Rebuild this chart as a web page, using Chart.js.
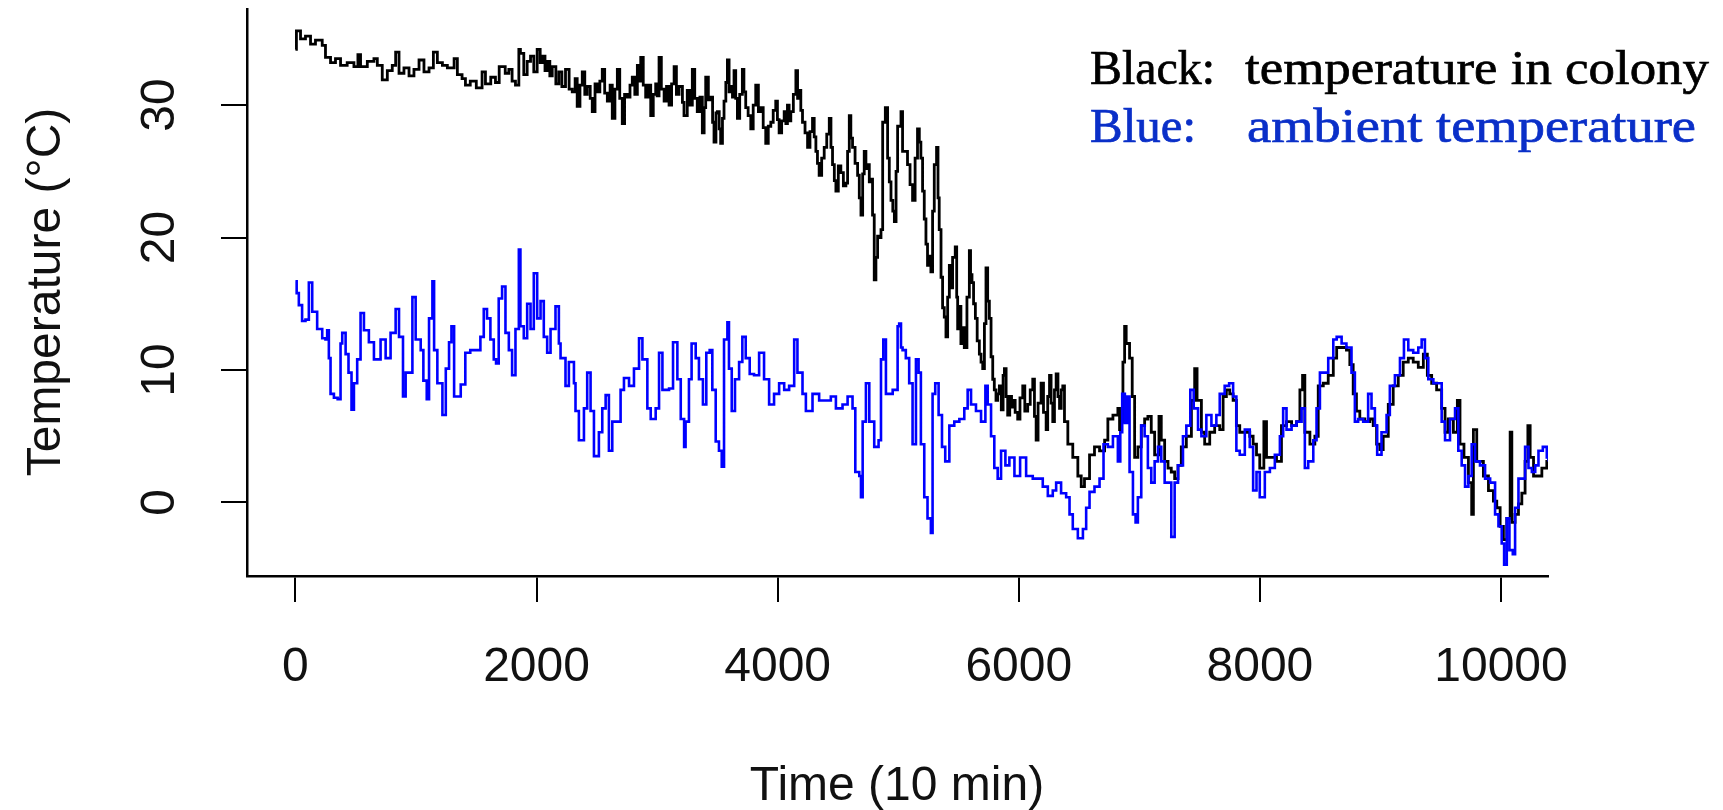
<!DOCTYPE html>
<html>
<head>
<meta charset="utf-8">
<script src="https://cdn.jsdelivr.net/npm/chart.js@4"></script>
<style>
  html, body { margin: 0; padding: 0; background: #fff; }
  canvas { display: block; }
</style>
</head>
<body>
<canvas id="grafico" width="1723" height="810"></canvas>
<script>
// temperature inside the colony (black line)
const colonyTime = [
    0, 8, 42, 83, 125, 166, 222, 249, 291, 332,
    374, 429, 485, 518, 540, 596, 651, 679, 720, 762,
    803, 831, 859, 900, 942, 983, 1025, 1066, 1108, 1144,
    1177, 1219, 1260, 1316, 1343, 1382, 1410, 1450, 1500, 1548,
    1576, 1620, 1659, 1690, 1740, 1770, 1797, 1825, 1853, 1866,
    1894, 1922, 1950, 1977, 2005, 2030, 2047, 2070, 2088, 2110,
    2130, 2160, 2185, 2210, 2240, 2270, 2296, 2320, 2337, 2360,
    2379, 2400, 2420, 2445, 2462, 2485, 2504, 2525, 2545, 2565,
    2587, 2610, 2628, 2650, 2670, 2690, 2711, 2730, 2753, 2775,
    2794, 2815, 2836, 2850, 2864, 2885, 2905, 2925, 2947, 2968,
    2988, 3000, 3016, 3035, 3058, 3078, 3099, 3120, 3141, 3160,
    3182, 3210, 3223, 3250, 3270, 3292, 3312, 3333, 3355, 3375,
    3390, 3403, 3425, 3444, 3460, 3472, 3488, 3500, 3515, 3527,
    3542, 3555, 3570, 3583, 3597, 3610, 3625, 3638, 3652, 3666,
    3685, 3707, 3720, 3735, 3755, 3777, 3797, 3818, 3840, 3860,
    3880, 3901, 3922, 3943, 3963, 3984, 3998, 4012, 4033, 4054,
    4068, 4081, 4095, 4109, 4130, 4151, 4165, 4178, 4192, 4206,
    4227, 4248, 4268, 4289, 4303, 4317, 4330, 4344, 4365, 4386,
    4407, 4428, 4442, 4455, 4470, 4483, 4503, 4524, 4545, 4566,
    4580, 4594, 4607, 4621, 4642, 4663, 4677, 4691, 4705, 4718,
    4732, 4746, 4760, 4774, 4787, 4801, 4815, 4829, 4843, 4857,
    4871, 4893, 4912, 4926, 4940, 4955, 4968, 4982, 4995, 5023,
    5036, 5051, 5077, 5098, 5119, 5140, 5160, 5175, 5188, 5202,
    5216, 5230, 5243, 5257, 5271, 5285, 5299, 5318, 5330, 5340,
    5355, 5368, 5382, 5396, 5410, 5424, 5437, 5451, 5473, 5485,
    5493, 5507, 5520, 5535, 5548, 5570, 5590, 5600, 5612, 5625,
    5640, 5655, 5673, 5687, 5701, 5715, 5728, 5742, 5756, 5770,
    5784, 5797, 5811, 5825, 5839, 5855, 5870, 5881, 5895, 5908,
    5925, 5940, 5950, 5970, 5991, 6010, 6033, 6050, 6074, 6095,
    6116, 6130, 6144, 6160, 6185, 6205, 6227, 6240, 6255, 6268,
    6282, 6296, 6310, 6325, 6338, 6352, 6365, 6379, 6407, 6448,
    6490, 6518, 6545, 6587, 6628, 6670, 6712, 6739, 6781, 6822,
    6836, 6850, 6864, 6878, 6891, 6919, 6941, 6961, 6988, 7016,
    7044, 7071, 7099, 7127, 7163, 7182, 7210, 7238, 7265, 7293,
    7321, 7348, 7390, 7432, 7459, 7479, 7515, 7542, 7584, 7625,
    7667, 7695, 7722, 7750, 7778, 7805, 7833, 7875, 7916, 7944,
    7972, 7999, 8033, 8055, 8096, 8138, 8179, 8221, 8263, 8304,
    8332, 8354, 8373, 8415, 8456, 8484, 8526, 8567, 8609, 8637,
    8678, 8718, 8746, 8774, 8801, 8829, 8871, 8912, 8940, 8968,
    8995, 9023, 9065, 9106, 9148, 9189, 9231, 9272, 9314, 9356,
    9389, 9425, 9466, 9508, 9536, 9563, 9605, 9638, 9660, 9693,
    9730, 9757, 9771, 9799, 9826, 9854, 9896, 9937, 9965, 9993,
    10020, 10048, 10076, 10090, 10117, 10145, 10173, 10200, 10223, 10242,
    10270, 10311, 10339, 10380, 10395
];
const colonyTemp = [
    34.2, 35.6, 35.0, 35.2, 34.6, 34.9, 34.5, 33.6, 33.2, 33.5,
    33.0, 33.2, 32.9, 33.8, 32.9, 33.3, 33.5, 33.0, 31.9, 32.6,
    33.0, 34.0, 32.4, 32.8, 32.2, 32.7, 33.4, 32.5, 32.8, 34.0,
    33.2, 33.0, 32.8, 33.5, 32.3, 32.0, 31.5, 31.8, 31.3, 32.5,
    31.6, 32.1, 31.7, 32.9, 32.4, 32.7, 31.8, 31.5, 34.2, 33.9,
    32.3, 33.3, 33.7, 32.5, 34.2, 33.2, 33.7, 32.6, 33.3, 32.2,
    32.9, 31.6, 32.5, 31.4, 32.7, 31.2, 31.0, 32.0, 29.9, 31.5,
    32.5, 30.8, 31.4, 30.5, 29.5, 31.6, 31.0, 31.8, 32.7, 30.9,
    30.3, 31.5, 29.0, 31.2, 32.7, 30.5, 28.6, 30.8, 30.6, 31.5,
    32.1, 30.8, 33.0, 31.8, 33.6, 31.5, 30.6, 31.5, 29.2, 30.8,
    31.6, 30.7, 33.6, 31.2, 30.3, 31.4, 30.0, 31.6, 32.9, 30.8,
    31.4, 30.2, 29.2, 31.1, 30.0, 32.7, 30.5, 29.5, 30.6, 27.9,
    29.8, 32.1, 30.4, 30.6, 28.7, 27.2, 29.4, 29.5, 28.2, 27.1,
    29.0, 30.3, 31.7, 33.4, 31.0, 31.4, 30.6, 32.6, 30.5, 29.0,
    30.8, 32.7, 31.0, 29.8, 29.2, 28.2, 30.0, 31.5, 29.5, 29.8,
    28.3, 27.1, 28.4, 28.7, 29.6, 30.3, 28.9, 27.9, 28.8, 29.5,
    28.6, 30.0, 28.8, 29.5, 30.8, 32.6, 30.5, 31.1, 29.6, 28.7,
    27.9, 26.8, 28.0, 29.0, 27.6, 26.5, 25.6, 24.7, 26.0, 26.8,
    27.8, 29.0, 26.8, 25.5, 24.3, 23.5, 25.4, 24.9, 23.9, 24.1,
    26.5, 29.2, 27.5, 26.8, 25.6, 24.7, 23.0, 21.7, 24.8, 26.5,
    25.2, 25.5, 24.2, 24.4, 21.7, 16.8, 18.5, 20.1, 20.0, 20.6,
    28.7, 29.8, 26.0, 24.2, 22.8, 22.0, 21.2, 25.0, 28.4, 29.5,
    26.5, 26.5, 25.5, 24.0, 22.8, 26.0, 28.2, 27.2, 26.0, 23.5,
    21.4, 19.5, 17.9, 18.6, 17.4, 22.0, 25.5, 26.8, 23.0, 20.6,
    17.0, 14.7, 14.0, 12.5, 15.5, 17.9, 16.2, 18.5, 19.3, 15.5,
    13.1, 14.8, 12.0, 13.2, 11.7, 15.5, 19.0, 17.2, 16.6, 15.0,
    13.9, 12.2, 11.2, 10.6, 10.1, 13.5, 17.7, 15.2, 13.9, 11.0,
    9.3, 8.5, 7.7, 8.2, 8.8, 7.0, 9.6, 10.1, 8.0, 6.6,
    8.0, 7.2, 7.7, 6.8, 6.3, 7.9, 8.8, 6.9, 7.4, 8.5,
    9.3, 6.5, 4.7, 7.5, 9.0, 6.8, 5.5, 8.0, 9.6, 7.5,
    6.1, 8.5, 9.7, 8.0, 7.1, 8.5, 8.8, 6.1, 4.4, 3.4,
    2.0, 1.2, 1.8, 3.6, 4.2, 3.9, 4.7, 6.3, 6.6, 7.1,
    5.5, 6.1, 10.6, 13.3, 12.0, 10.9, 8.0, 3.4, 4.2, 5.8,
    6.3, 6.5, 5.3, 3.6, 6.5, 4.7, 3.1, 2.6, 2.3, 1.8,
    2.8, 4.2, 5.0, 7.7, 10.1, 7.7, 5.3, 4.4, 5.3, 5.8,
    5.5, 8.0, 8.5, 8.2, 7.7, 5.8, 5.3, 5.3, 5.0, 4.4,
    3.6, 2.6, 6.1, 3.4, 3.4, 3.1, 5.8, 6.1, 5.8, 6.1,
    8.5, 9.6, 5.3, 4.4, 5.0, 8.8, 9.0, 9.6, 10.9, 11.7,
    11.7, 11.5, 10.4, 8.2, 6.9, 6.3, 6.1, 6.3, 5.8, 4.4,
    4.0, 5.0, 7.4, 8.8, 9.6, 10.6, 10.9, 10.6, 10.2, 11.2,
    9.6, 9.0, 8.5, 7.1, 5.3, 6.3, 5.3, 7.7, 4.4, 3.4,
    1.5, -0.9, 5.5, 3.1, 3.1, 2.0, 0.9, 0.1, -0.4, -1.8,
    -2.8, -1.2, 5.3, -1.5, -0.9, -0.1, 0.7, 3.1, 5.8, 3.4,
    2.0, 2.0, 2.6, 3.1, 3.4
];

// ambient temperature (blue line)
const ambientTime = [
    0, 10, 28, 55, 83, 111, 139, 180, 222, 249,
    263, 277, 291, 319, 350, 374, 388, 416, 440, 465,
    485, 512, 540, 568, 609, 651, 706, 748, 789, 831,
    859, 892, 914, 970, 997, 1039, 1061, 1089, 1108, 1136,
    1150, 1177, 1219, 1247, 1274, 1294, 1316, 1371, 1409, 1450,
    1520, 1534, 1562, 1589, 1617, 1645, 1664, 1686, 1714, 1742,
    1770, 1797, 1825, 1853, 1866, 1894, 1922, 1950, 1977, 2005,
    2033, 2060, 2088, 2116, 2157, 2185, 2199, 2240, 2268, 2310,
    2323, 2351, 2393, 2420, 2448, 2476, 2517, 2545, 2573, 2600,
    2628, 2670, 2697, 2725, 2767, 2808, 2850, 2878, 2919, 2947,
    2988, 3016, 3044, 3099, 3132, 3168, 3196, 3224, 3236, 3264,
    3286, 3320, 3347, 3380, 3408, 3436, 3458, 3486, 3513, 3536,
    3555, 3583, 3596, 3619, 3646, 3680, 3707, 3735, 3768, 3804,
    3846, 3887, 3929, 3970, 4012, 4054, 4095, 4137, 4164, 4206,
    4234, 4289, 4344, 4400, 4441, 4483, 4538, 4580, 4621, 4644,
    4677, 4691, 4705, 4732, 4760, 4801, 4837, 4857, 4876, 4898,
    4954, 4995, 5008, 5023, 5036, 5063, 5091, 5119, 5147, 5169,
    5188, 5216, 5243, 5271, 5285, 5307, 5335, 5363, 5390, 5424,
    5465, 5507, 5548, 5576, 5604, 5645, 5687, 5723, 5742, 5770,
    5797, 5825, 5853, 5889, 5922, 5964, 6011, 6061, 6116, 6158,
    6199, 6241, 6282, 6310, 6351, 6393, 6421, 6448, 6490, 6532,
    6559, 6587, 6628, 6670, 6703, 6739, 6781, 6822, 6842, 6858,
    6880, 6900, 6919, 6947, 6969, 6988, 7016, 7044, 7071, 7099,
    7127, 7155, 7182, 7210, 7238, 7265, 7293, 7321, 7362, 7390,
    7423, 7451, 7487, 7515, 7556, 7598, 7639, 7667, 7708, 7745,
    7778, 7805, 7833, 7875, 7916, 7944, 7972, 7999, 8041, 8083,
    8124, 8166, 8193, 8221, 8263, 8304, 8346, 8373, 8401, 8443,
    8470, 8498, 8540, 8567, 8609, 8637, 8678, 8718, 8760, 8788,
    8815, 8857, 8898, 8926, 8954, 8973, 9009, 9051, 9078, 9120,
    9162, 9195, 9231, 9272, 9314, 9342, 9369, 9397, 9439, 9480,
    9508, 9536, 9577, 9619, 9646, 9674, 9702, 9730, 9757, 9785,
    9826, 9868, 9910, 9951, 9979, 10006, 10026, 10048, 10070, 10098,
    10117, 10145, 10173, 10200, 10228, 10256, 10284, 10311, 10347, 10380,
    10395
];
const ambientTemp = [
    16.7, 15.8, 14.9, 13.7, 13.8, 16.6, 14.4, 13.1, 12.4, 12.3,
    13.0, 10.9, 8.2, 7.9, 7.8, 12.0, 12.8, 11.2, 9.8, 7.0,
    9.0, 10.8, 14.3, 13.0, 12.1, 10.8, 12.3, 10.9, 12.8, 14.6,
    12.5, 8.0, 9.8, 15.5, 12.3, 11.5, 9.2, 7.8, 13.9, 16.7,
    11.5, 9.0, 6.6, 10.1, 12.1, 13.3, 8.0, 8.9, 11.3, 11.5,
    11.5, 12.5, 14.6, 13.9, 12.3, 10.8, 10.5, 15.4, 16.3, 12.8,
    11.5, 9.6, 13.1, 19.1, 13.3, 12.4, 15.0, 13.1, 17.3, 13.9,
    15.2, 12.5, 11.3, 13.1, 14.8, 12.0, 10.9, 8.8, 10.6, 9.0,
    6.9, 4.7, 7.1, 9.8, 6.9, 3.5, 5.3, 7.1, 8.1, 3.9,
    6.1, 6.1, 8.5, 9.4, 8.8, 10.1, 12.4, 10.8, 7.1, 6.3,
    7.1, 11.3, 8.5, 8.6, 12.1, 9.3, 6.3, 4.2, 6.1, 9.3,
    12.0, 10.9, 9.3, 7.4, 11.3, 11.5, 8.5, 4.6, 3.9, 2.7,
    12.3, 13.6, 10.1, 6.9, 9.3, 10.6, 12.5, 10.9, 9.7, 9.6,
    11.3, 9.3, 7.4, 8.2, 9.0, 8.5, 8.8, 12.3, 9.8, 8.2,
    6.9, 8.2, 7.7, 7.7, 8.0, 7.1, 7.4, 8.0, 7.1, 2.3,
    2.0, 0.4, 6.1, 9.0, 6.1, 4.2, 4.7, 10.8, 12.3, 8.2,
    8.5, 13.3, 13.5, 11.7, 11.5, 10.9, 9.0, 4.4, 10.8, 9.8,
    4.4, 0.4, -1.2, -2.3, 8.2, 9.0, 6.6, 4.2, 3.1, 5.8,
    6.1, 6.3, 7.1, 8.5, 7.4, 6.9, 6.1, 8.8, 7.4, 5.0,
    2.6, 1.8, 3.9, 2.8, 3.4, 2.0, 3.4, 2.0, 1.8, 1.8,
    1.2, 0.5, 0.9, 1.5, 0.7, 0.4, -0.9, -2.0, -2.7, -2.0,
    -0.4, 0.8, 1.2, 1.8, 4.4, 4.2, 5.0, 3.1, 5.3, 8.2,
    6.0, 8.0, 2.3, -0.9, -1.5, 0.4, 5.8, 5.0, 2.6, 1.5,
    3.1, 4.2, 3.1, 1.5, 1.5, -2.6, 1.5, 2.8, 5.0, 5.8,
    8.5, 7.1, 5.5, 5.0, 6.6, 5.8, 6.6, 8.2, 8.8, 9.0,
    8.0, 3.9, 3.6, 5.5, 4.2, 0.9, 2.3, 0.4, 2.3, 2.6,
    3.6, 5.0, 7.1, 5.5, 5.8, 6.1, 7.1, 2.6, 3.1, 4.7,
    7.1, 9.8, 9.8, 10.9, 12.3, 12.5, 12.0, 11.7, 9.8, 6.1,
    6.3, 6.1, 8.2, 7.1, 5.8, 3.6, 5.3, 6.6, 8.8, 9.6,
    10.9, 12.3, 11.5, 11.3, 11.7, 12.3, 10.9, 9.3, 9.0, 9.0,
    6.1, 4.7, 6.3, 7.1, 3.9, 2.8, 1.2, 2.0, 4.4, 3.1,
    2.8, 1.8, 1.5, -0.9, -1.8, -3.1, -4.7, -1.2, -3.6, -3.9,
    -0.4, 1.8, 1.8, 4.2, 2.6, 2.3, 2.8, 3.9, 4.2, 3.4,
    3.1
];

const timeTicks = [0, 2000, 4000, 6000, 8000, 10000];
const tempTicks = [0, 10, 20, 30];

const tituloX = 'Time (10 min)';
const tituloY = 'Temperature (°C)';

// axis text is drawn by hand so it can sit where the original R plot puts it
const textoEixos = {
    id: 'textoEixos',
    afterDraw(chart) {
        const c = chart.ctx;
        const sx = chart.scales.x;
        const sy = chart.scales.y;
        c.save();
        c.fillStyle = '#111';
        c.font = '48px "Liberation Sans", Arial, sans-serif';
        c.textAlign = 'center';
        c.textBaseline = 'alphabetic';

        timeTicks.forEach(v => c.fillText(String(v), sx.getPixelForValue(v), 681));

        tempTicks.forEach(v => {
            c.save();
            c.translate(174, sy.getPixelForValue(v));
            c.rotate(-Math.PI / 2);
            c.fillText(String(v), 0, 0);
            c.restore();
        });

        c.fillText(tituloX, 897, 800);

        c.save();
        c.translate(60, 292);
        c.rotate(-Math.PI / 2);
        c.fillText(tituloY, 0, 0);
        c.restore();

        // the two-line note in the top right corner
        c.font = '48px "Liberation Serif", "Times New Roman", serif';
        c.textAlign = 'left';
        c.lineWidth = 0.7;
        const escreve = (txt, x0, x1, base, cor) => {
            const w = c.measureText(txt).width;
            c.save();
            c.fillStyle = cor;
            c.strokeStyle = cor;
            c.translate(x0, base);
            c.scale((x1 - x0) / w, 1);
            c.fillText(txt, 0, 0);
            c.strokeText(txt, 0, 0);
            c.restore();
        };
        escreve('Black:', 1090, 1215, 84, '#000');
        escreve('temperature in colony', 1245, 1709, 84, '#000');
        escreve('Blue:', 1090, 1196, 142, '#0a2fc8');
        escreve('ambient temperature', 1247, 1696, 142, '#0a2fc8');
        c.restore();
    }
};

const eixoComum = {
    type: 'linear',
    ticks: { display: false },
    grid: {
        drawOnChartArea: false,
        drawTicks: true,
        tickLength: 26,
        color: '#000',
        lineWidth: 2,
        tickWidth: 2
    },
    border: { display: true, color: '#000', width: 2.5 }
};

new Chart(document.getElementById('grafico'), {
    type: 'line',
    data: {
        datasets: [{
            label: 'temperature in colony',
            data: colonyTime.map((t, i) => ({ x: t, y: colonyTemp[i] })),
            borderColor: '#000000',
            borderWidth: 2.8,
            pointRadius: 0,
            stepped: true,
            fill: false,
            order: 2
        }, {
            label: 'ambient temperature',
            data: ambientTime.map((t, i) => ({ x: t, y: ambientTemp[i] })),
            borderColor: '#0000ff',
            borderWidth: 2.6,
            pointRadius: 0,
            stepped: true,
            fill: false,
            order: 1
        }]
    },
    options: {
        responsive: false,
        animation: false,
        layout: { padding: { top: 9, right: 175, left: 0, bottom: 0 } },
        plugins: {
            legend: { display: false },
            tooltip: { enabled: false },
            title: { display: false }
        },
        scales: {
            x: Object.assign({}, eixoComum, {
                min: -402,
                max: 10390,
                afterBuildTicks: s => { s.ticks = timeTicks.map(v => ({ value: v })); },
                afterFit: s => { s.height = 810 - 576; }
            }),
            y: Object.assign({}, eixoComum, {
                min: -5.55,
                max: 37.25,
                afterBuildTicks: s => { s.ticks = tempTicks.map(v => ({ value: v })); },
                afterFit: s => { s.width = 247; }
            })
        }
    },
    plugins: [textoEixos]
});
</script>
</body>
</html>
